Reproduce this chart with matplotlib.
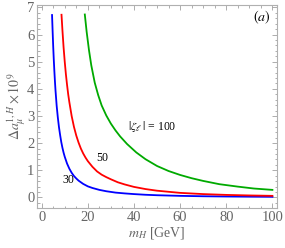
import numpy as np
import matplotlib
matplotlib.use('Agg')
import matplotlib.pyplot as plt
from matplotlib.ticker import MultipleLocator

plt.rcParams['font.family'] = ['Liberation Serif', 'DejaVu Serif']
plt.rcParams['mathtext.fontset'] = 'stix'

# values
mH_30 = [4.5, 4.75, 5, 5.25, 5.5, 5.75, 6, 6.5, 7, 7.5, 8, 8.5, 9, 9.5, 10, 11, 12, 13, 14, 15, 16,
         18, 20, 22, 25, 28, 32, 36, 40, 45, 50, 60, 70, 80, 90, 100]
da_30 = [6.72, 6.12, 5.56, 5.08, 4.66, 4.28, 3.94, 3.38, 2.95, 2.59, 2.30, 2.04, 1.83, 1.65, 1.50, 1.25,
         1.06, 0.91, 0.79, 0.70, 0.62, 0.50, 0.41, 0.35, 0.28, 0.23, 0.18, 0.15, 0.125, 0.10, 0.083,
         0.060, 0.045, 0.036, 0.029, 0.024]

mH_50 = [8.6, 9, 9.5, 10, 10.5, 11, 11.5, 12, 13, 14, 15, 16, 17, 18, 19, 20, 22, 24, 26, 28, 30,
         33, 36, 40, 45, 50, 55, 60, 70, 80, 90, 100]
da_50 = [6.73, 6.16, 5.53, 5.0, 4.54, 4.15, 3.80, 3.51, 3.0, 2.60, 2.28, 2.02, 1.80, 1.62, 1.47, 1.34,
         1.13, 0.96, 0.84, 0.75, 0.67, 0.56, 0.48, 0.39, 0.31, 0.25, 0.21, 0.17, 0.125, 0.095, 0.075, 0.06]

mH_100 = [18.7, 19.5, 20.5, 21.5, 23, 24.5, 26, 28, 30, 32, 34, 37, 41, 45, 50, 55, 60, 65, 70, 77,
          85, 92, 100]
da_100 = [6.74, 6.10, 5.43, 4.87, 4.23, 3.77, 3.39, 3.02, 2.72, 2.47, 2.25, 1.97, 1.66, 1.41, 1.16,
          0.975, 0.83, 0.71, 0.61, 0.49, 0.40, 0.33, 0.28]

fig = plt.figure(figsize=(2.85, 2.48), dpi=100)
ax = fig.add_axes([0.13, 0.161, 0.842, 0.82])

ax.plot(mH_30, da_30, color='#0000ff', lw=1.3)
ax.plot(mH_50, da_50, color='#ff0000', lw=1.3)
ax.plot(mH_100, da_100, color='#00aa00', lw=1.3)

ax.set_xlim(-2, 102)
ax.set_ylim(-0.39, 7.1)

gray = '#666666'
for s in ax.spines.values():
    s.set_color('#b0b0b0')
    s.set_linewidth(0.8)
ax.xaxis.set_major_locator(MultipleLocator(20))
ax.xaxis.set_minor_locator(MultipleLocator(5))
ax.yaxis.set_major_locator(MultipleLocator(1))
ax.yaxis.set_minor_locator(MultipleLocator(0.2))
ax.tick_params(which='both', direction='in', top=True, right=True, color='#a0a0a0',
               labelcolor=gray, labelsize=10.5, width=0.6, pad=2)
ax.tick_params(which='major', length=3.5)
ax.tick_params(which='minor', length=1.8)

ax.set_xlabel(r'$m_H$ [GeV]', color=gray, fontsize=10, labelpad=1)
ax.set_ylabel(r'$\Delta a_\mu^{1,H}\times 10^9$', color=gray, fontsize=10, labelpad=0)

ax.text(11.5, 0.65, '30', fontsize=8.5, ha='center', va='center')
ax.text(26.3, 1.46, '50', fontsize=8.5, ha='center', va='center')
ax.text(37.3, 2.61, r'$|\zeta_\ell\,|$ = 100', fontsize=8.5, ha='left', va='center')
ax.text(99, 6.65, r'$(a)$', fontsize=10, ha='right', va='center')

fig.savefig('out.png', dpi=100)
